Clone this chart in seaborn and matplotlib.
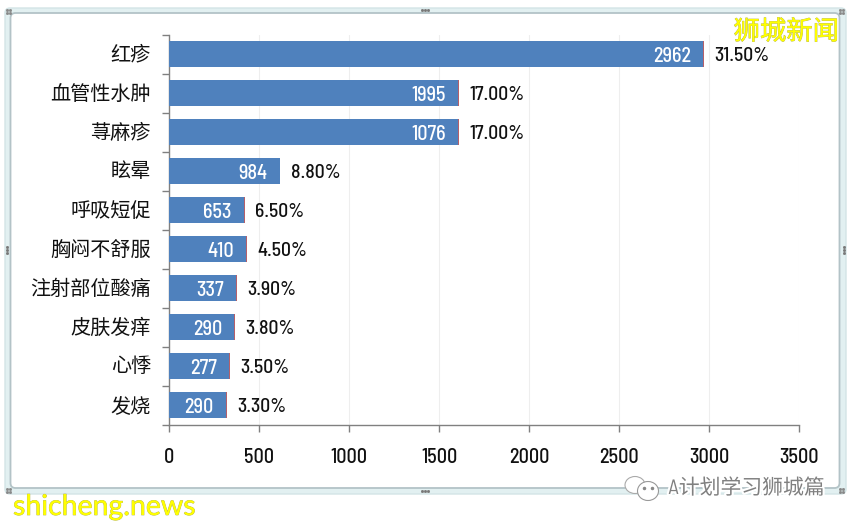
import matplotlib
matplotlib.use('Agg')
import matplotlib.pyplot as plt
import matplotlib.patheffects as pe
from matplotlib.patches import FancyBboxPatch, Ellipse
import pandas as pd
import seaborn as sns

# chart data
symptoms = ['红疹', '血管性水肿', '荨麻疹', '眩晕', '呼吸短促', '胸闷不舒服', '注射部位酸痛', '皮肤发痒', '心悸', '发烧']
bar_values = [2964, 1604, 1604, 614, 418, 429, 374, 363, 335, 316]
red_values = [8, 5, 5, 4, 2, 4, 4, 4, 4, 4]
count_labels = ['2962', '1995', '1076', '984', '653', '410', '337', '290', '277', '290']
pct_labels = ['31.50%', '17.00%', '17.00%', '8.80%', '6.50%', '4.50%', '3.90%', '3.80%', '3.50%', '3.30%']
x_ticks = [0, 500, 1000, 1500, 2000, 2500, 3000, 3500]

sns.set_theme(style='white')
plt.rcParams['font.family'] = ['Barlow Semi Condensed', 'Noto Sans CJK SC', 'DejaVu Sans']

W, H = 853, 527
fig = plt.figure(figsize=(W / 100, H / 100), dpi=100)
fig.patch.set_facecolor('white')
ax = fig.add_axes([169 / W, 1 - 424.5 / H, 630 / W, 390 / H])
ax.patch.set_alpha(0)

df = pd.DataFrame({'symptom': symptoms, 'value': bar_values})
df['total'] = df['value'] + pd.Series(red_values)

# red sliver sits behind the blue bar
sns.barplot(data=df, y='symptom', x='total', color='#b5606a', saturation=1, width=0.69, linewidth=0, ax=ax, zorder=3)
sns.barplot(data=df, y='symptom', x='value', color='#4f81bd', saturation=1, width=0.69, linewidth=0, ax=ax, zorder=4)

ax.set_xlim(0, 3500)
ax.set_ylim(9.5, -0.5)
ax.set_xlabel('')
ax.set_ylabel('')
ax.set_xticks(x_ticks)
ax.set_xticklabels([str(t) for t in x_ticks], fontsize=14.5, fontweight='medium', color='#111111')
ax.set_yticks([i - 0.5 for i in range(11)])
ax.set_yticklabels([])
ax.tick_params(axis='both', length=5, width=1, color='#808080', left=True, bottom=True, pad=12)
ax.grid(axis='x', color='#eeeeee', linewidth=0.8, zorder=0)
ax.set_axisbelow(True)
for side in ['top', 'right']:
    ax.spines[side].set_visible(False)
for side in ['left', 'bottom']:
    ax.spines[side].set_color('#808080')
    ax.spines[side].set_linewidth(1)

for i, name in enumerate(symptoms):
    ax.annotate(name, (0, i), xytext=(-13, -0.8), textcoords='offset points', ha='right', va='center',
                fontsize=14.5, color='#111111', annotation_clip=False)
    end = bar_values[i] + red_values[i]
    ax.annotate(count_labels[i], (end, i), xytext=(-9.4, -1.5), textcoords='offset points', ha='right', va='center',
                fontsize=14.5, fontweight='medium', color='white', zorder=6)
    ax.annotate(pct_labels[i], (end, i), xytext=(7.5, -1.5), textcoords='offset points', ha='left', va='center',
                fontsize=14.2, fontweight='medium', color='#111111', zorder=6)

# frame of the embedded chart
back = fig.add_axes([0, 0, 1, 1], zorder=-1)
back.set_xlim(0, W)
back.set_ylim(H, 0)
back.axis('off')
back.add_patch(FancyBboxPatch((5, 8), 841, 486, boxstyle='round,pad=0,rounding_size=5',
                              fc='#e2f0f1', ec='#d3e4e6', lw=1))
back.add_patch(FancyBboxPatch((10.5, 13), 829, 475, boxstyle='round,pad=0,rounding_size=5',
                              fc='white', ec='#b3c3c7', lw=1.3))
handles = [(425, 10, True), (425, 491, True), (7, 250, False), (844, 250, False)]
for x, y, horizontal in handles:
    for k in (-3, 0, 3):
        back.plot(x + (k if horizontal else 0), y + (0 if horizontal else k), 's', ms=1, color='#777777')
for x, y in [(9, 11), (842, 11), (9, 490), (842, 490)]:
    for dx, dy in [(-2, -1), (1, -1), (-2, 2), (1, 2)]:
        back.plot(x + dx, y + dy, 's', ms=1, color='#888888')

# watermarks
top = fig.add_axes([0, 0, 1, 1], zorder=5)
top.set_xlim(0, W)
top.set_ylim(H, 0)
top.axis('off')
shadow = [pe.withStroke(linewidth=0.5, foreground='#b0b050')]
top.text(839, 32, '狮城新闻', ha='right', va='center', fontsize=19, color='#ffff00', path_effects=shadow)
top.text(13, 507, 'shicheng.news', ha='left', va='center', fontsize=20.5, color='#ffff00',
         family=['Lato', 'DejaVu Sans'], path_effects=shadow)
outline = [pe.withStroke(linewidth=3, foreground='white')]
top.text(825, 488, 'A计划学习狮城篇', ha='right', va='center', fontsize=15, color='#808080', path_effects=outline)
top.add_patch(Ellipse((635, 485), 20, 17, fc='white', ec='#aaaaaa', lw=0.8))
top.add_patch(Ellipse((648, 491), 21, 19, fc='white', ec='#999999', lw=0.8))
for x, y in [(644, 488), (652, 488)]:
    top.plot(x, y, 'o', ms=1.5, color='#888888')

fig.savefig('out.png', dpi=100, facecolor='white')
